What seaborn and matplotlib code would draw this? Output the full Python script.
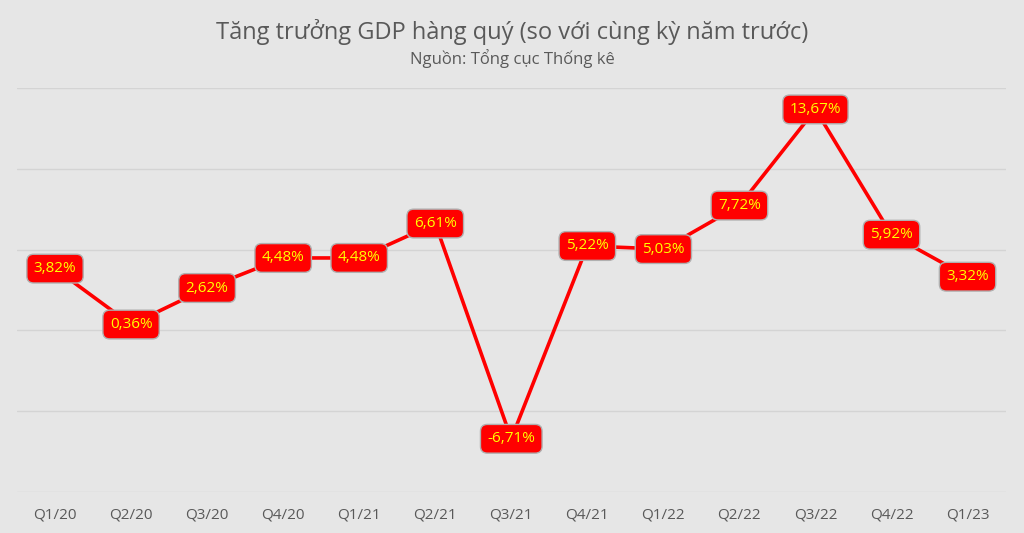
import pandas as pd
import matplotlib.pyplot as plt
import seaborn as sns

quarters = ["Q1/20", "Q2/20", "Q3/20", "Q4/20", "Q1/21", "Q2/21", "Q3/21",
            "Q4/21", "Q1/22", "Q2/22", "Q3/22", "Q4/22", "Q1/23"]
gdp_growth = [3.82, 0.36, 2.62, 4.48, 4.48, 6.61, -6.71,
              5.22, 5.03, 7.72, 13.67, 5.92, 3.32]

df = pd.DataFrame({"pos": range(len(quarters)), "quy": quarters, "tang": gdp_growth})

sns.set_theme(style="whitegrid")
plt.rcParams['font.family'] = ['Open Sans', 'DejaVu Sans']

bg = "#e6e6e6"
fig = plt.figure(figsize=(10.24, 5.33), dpi=100, facecolor=bg)
ax = fig.add_axes([0.0166, 0.077, 0.9654, 0.758])
ax.set_facecolor(bg)

sns.lineplot(data=df, x="pos", y="tang", ax=ax, color="#ff0000", linewidth=2.6, sort=False)

# nhãn giá trị
for i, v in enumerate(gdp_growth):
    txt = f"{v:.2f}%".replace(".", ",")
    ax.text(i, v, txt, ha="center", va="center", fontsize=11, color="#ffff00",
            bbox=dict(boxstyle="round,pad=0.45,rounding_size=0.45", fc="#ff0000",
                      ec="#b0b0b0", lw=1), zorder=5)

ax.set_xlim(-0.5, len(quarters) - 0.5)
ax.set_ylim(-10, 15)
ax.set_yticks([-10, -5, 0, 5, 10, 15])
ax.set_yticklabels([])
ax.set_xticks(range(len(quarters)))
ax.set_xticklabels(quarters, fontsize=11, color="#595959")
ax.tick_params(axis="x", length=0, pad=11)
ax.tick_params(axis="y", length=0)
ax.grid(axis="x", visible=False)
ax.grid(axis="y", color="#d4d4d4", linewidth=1)
for s in ax.spines.values():
    s.set_visible(False)
ax.set_xlabel("")
ax.set_ylabel("")

fig.text(0.5, 0.94, "Tăng trưởng GDP hàng quý (so với cùng kỳ năm trước)",
         ha="center", va="center", fontsize=17, color="#595959")
fig.text(0.5, 0.89, "Nguồn: Tổng cục Thống kê",
         ha="center", va="center", fontsize=12, color="#595959")

fig.savefig("out.png", dpi=100, facecolor=bg)
